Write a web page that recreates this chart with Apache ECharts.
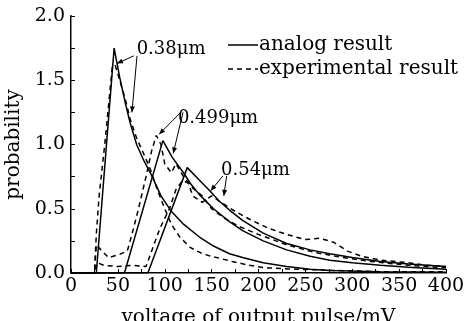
<!DOCTYPE html>
<html>
<head>
<meta charset="utf-8">
<script src="https://cdn.jsdelivr.net/npm/echarts@6/dist/echarts.min.js"></script>
<style>
  html, body { margin: 0; padding: 0; background: #fff; }
  #main { width: 472px; height: 321px; }
</style>
</head>
<body>
<div id="main"></div>
<script>
// analog (solid) curves, [voltage mV, probability]
const analog038 = [[0, 0], [27, 0], [46, 1.75], [52, 1.52], [58, 1.32], [63, 1.17], [70, 1.0], [78, 0.87], [86, 0.76], [96, 0.6], [107, 0.48], [120, 0.38], [137, 0.28], [152, 0.21], [169, 0.15], [183, 0.12], [205, 0.08], [230, 0.05], [255, 0.03], [276, 0.02], [330, 0.01], [400, 0.005]];
const analog0499 = [[0, 0], [57, 0], [98, 1.03], [108, 0.9], [120, 0.78], [128, 0.69], [137, 0.61], [152, 0.5], [169, 0.4], [183, 0.33], [205, 0.25], [230, 0.18], [255, 0.13], [276, 0.1], [300, 0.08], [330, 0.06], [360, 0.045], [400, 0.03]];
const analog054 = [[0, 0], [82, 0], [124, 0.82], [136, 0.73], [148, 0.64], [158, 0.56], [169, 0.49], [183, 0.41], [205, 0.31], [230, 0.23], [255, 0.18], [276, 0.15], [300, 0.12], [330, 0.09], [360, 0.07], [400, 0.05]];

// experimental (dashed) curves
const exp038 = [[0, 0], [25, 0], [27, 0.3], [30, 0.6], [36, 1.0], [40, 1.3], [44, 1.6], [47, 1.62], [52, 1.5], [58, 1.35], [63, 1.2], [70, 1.05], [78, 0.92], [85, 0.8], [92, 0.65], [100, 0.5], [107, 0.38], [116, 0.28], [127, 0.2], [140, 0.15], [150, 0.13], [172, 0.09], [190, 0.06], [208, 0.04], [240, 0.03], [280, 0.02], [330, 0.01], [400, 0.01]];
const exp0499 = [[0, 0], [25, 0], [27, 0.22], [32, 0.18], [40, 0.12], [50, 0.14], [60, 0.17], [65, 0.3], [72, 0.5], [80, 0.75], [86, 0.95], [91, 1.07], [96, 1.0], [100, 0.85], [107, 0.78], [112, 0.85], [120, 0.75], [130, 0.66], [140, 0.6], [150, 0.5], [165, 0.42], [180, 0.36], [200, 0.3], [230, 0.22], [260, 0.16], [290, 0.12], [320, 0.09], [360, 0.06], [400, 0.04]];
const exp054 = [[0, 0], [25, 0], [28, 0.08], [35, 0.06], [50, 0.05], [65, 0.06], [80, 0.05], [85, 0.15], [95, 0.35], [105, 0.5], [112, 0.65], [119, 0.72], [125, 0.7], [130, 0.6], [140, 0.55], [150, 0.6], [160, 0.55], [175, 0.48], [190, 0.42], [210, 0.35], [230, 0.3], [250, 0.26], [265, 0.27], [280, 0.24], [295, 0.17], [310, 0.13], [330, 0.1], [360, 0.08], [380, 0.06], [400, 0.05]];

const legendNames = ['analog result', 'experimental result'];

// labels: text, anchor [x, y], arrows (from -> to) in data units
const labels = [
    { text: '0.38μm', at: [70, 1.74], arrows: [[[67, 1.69], [49, 1.63]], [[70.4, 1.69], [65, 1.25]]] },
    { text: '0.499μm', at: [114, 1.2], arrows: [[[117, 1.25], [94, 1.08]], [[119.5, 1.25], [109, 0.93]]] },
    { text: '0.54μm', at: [160, 0.8], arrows: [[[162, 0.755], [149, 0.64]], [[166, 0.755], [163, 0.6]]] }
];

const font = 'DejaVu Serif';
const chart = echarts.init(document.getElementById('main'));

function solid(data) {
    return {
        name: legendNames[0], type: 'line', data: data, symbol: 'none',
        lineStyle: { color: '#000', width: 1.5 }, z: 3
    };
}
function dashed(data) {
    return {
        name: legendNames[1], type: 'line', data: data, symbol: 'none',
        lineStyle: { color: '#000', width: 1.5, type: [5, 4] }, z: 2
    };
}

const option = {
    animation: false,
    grid: { left: 71, top: 16, width: 375, height: 257, containLabel: false, outerBoundsMode: 'none' },
    xAxis: [{
        type: 'value', min: 0, max: 400, interval: 50,
        name: 'voltage of output pulse/mV', nameLocation: 'middle', nameGap: 35,
        nameTextStyle: { fontFamily: font, fontSize: 20, color: '#000' },
        axisLine: { lineStyle: { color: '#000', width: 2 } },
        axisTick: { inside: true, length: 4, lineStyle: { color: '#000' } },
        minorTick: { show: true, splitNumber: 2, length: 4, lineStyle: { color: '#000' } },
        axisLabel: { fontFamily: font, fontSize: 19, color: '#000', margin: 4 },
        splitLine: { show: false }
    }, {
        type: 'value', position: 'top', min: 0, max: 400,
        axisLine: { lineStyle: { color: '#888', width: 1 } },
        axisTick: { show: false }, axisLabel: { show: false }, splitLine: { show: false }
    }],
    yAxis: [{
        type: 'value', min: 0, max: 2, interval: 0.5,
        name: 'probability', nameLocation: 'middle', nameGap: 40,
        nameTextStyle: { fontFamily: font, fontSize: 20, color: '#000' },
        axisLine: { lineStyle: { color: '#000', width: 2 } },
        axisTick: { inside: true, length: 4, lineStyle: { color: '#000' } },
        minorTick: { show: true, splitNumber: 2, length: 4, lineStyle: { color: '#000' } },
        axisLabel: { fontFamily: font, fontSize: 19, color: '#000', margin: 6, formatter: v => v.toFixed(1) },
        splitLine: { show: false }
    }, {
        type: 'value', position: 'right', min: 0, max: 2,
        axisLine: { lineStyle: { color: '#888', width: 1 } },
        axisTick: { show: false }, axisLabel: { show: false }, splitLine: { show: false }
    }],
    series: [
        solid(analog038), solid(analog0499), solid(analog054),
        dashed(exp038), dashed(exp0499), dashed(exp054)
    ]
};
chart.setOption(option);

const graphics = [];

// legend drawn by hand: line sample then text
legendNames.forEach(function (nm, i) {
    const y = 45 + i * 24;
    graphics.push({
        type: 'line', shape: { x1: 228, y1: y, x2: 258, y2: y },
        style: { stroke: '#000', lineWidth: 1.5, lineDash: i === 0 ? null : [5, 4] }
    });
    graphics.push({
        type: 'text', x: 259, y: y,
        style: { text: nm, font: '20px "' + font + '"', fill: '#000', textVerticalAlign: 'middle' }
    });
});

// annotation labels with arrows
labels.forEach(function (lb) {
    const p = chart.convertToPixel({ gridIndex: 0 }, lb.at);
    graphics.push({
        type: 'text', x: p[0], y: p[1],
        style: { text: lb.text, font: '18px "' + font + '"', fill: '#000', textVerticalAlign: 'middle' }
    });
    lb.arrows.forEach(function (ar) {
        const a = chart.convertToPixel({ gridIndex: 0 }, ar[0]);
        const b = chart.convertToPixel({ gridIndex: 0 }, ar[1]);
        graphics.push({
            type: 'line', shape: { x1: a[0], y1: a[1], x2: b[0], y2: b[1] },
            style: { stroke: '#000', lineWidth: 1 }
        });
        const ang = Math.atan2(b[1] - a[1], b[0] - a[0]);
        const L = 6, W = 2.5;
        const bx = b[0] - L * Math.cos(ang), by = b[1] - L * Math.sin(ang);
        graphics.push({
            type: 'polygon',
            shape: { points: [[b[0], b[1]], [bx + W * Math.sin(ang), by - W * Math.cos(ang)], [bx - W * Math.sin(ang), by + W * Math.cos(ang)]] },
            style: { fill: '#000' }
        });
    });
});
chart.setOption({ graphic: graphics });
</script>
</body>
</html>
